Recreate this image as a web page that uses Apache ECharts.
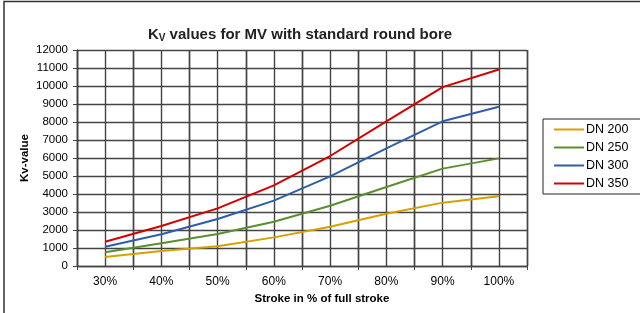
<!DOCTYPE html>
<html>
<head>
<meta charset="utf-8">
<script src="https://cdn.jsdelivr.net/npm/echarts@6/dist/echarts.min.js"></script>
<style>
  html, body { margin: 0; padding: 0; background: #fff; }
  #chart { width: 640px; height: 313px; }
</style>
</head>
<body>
<div id="chart"></div>
<script>
// stroke positions
const strokes = ['30%', '40%', '50%', '60%', '70%', '80%', '90%', '100%']

// Kv values per nominal diameter
const dn200 = [500, 830, 1100, 1590, 2180, 2900, 3520, 3870]
const dn250 = [760, 1260, 1780, 2460, 3350, 4390, 5410, 5980]
const dn300 = [1070, 1760, 2610, 3630, 4980, 6530, 8040, 8850]
const dn350 = [1350, 2220, 3200, 4480, 6110, 8040, 9940, 10920]

const font = '"Liberation Sans", Arial, sans-serif'
const gridLine = { show: true, lineStyle: { color: '#444', width: 1.4 } }

const chart = echarts.init(document.getElementById('chart'))

function line(name, data, color) {
  return {
    name: name,
    type: 'line',
    data: data,
    symbol: 'none',
    lineStyle: { color: color, width: 2 },
    itemStyle: { color: color }
  }
}

chart.setOption({
  animation: false,
  textStyle: { fontFamily: font },
  title: {
    text: '{k|K}{s|V}{k| values for MV with standard round bore}',
    left: 295,
    top: 21,
    textAlign: 'center',
    textStyle: {
      rich: {
        k: { fontSize: 15, fontWeight: 'bold', color: '#222', fontFamily: font },
        s: { fontSize: 10, fontWeight: 'bold', color: '#222', fontFamily: font, padding: [7, 0, 0, 0] }
      }
    }
  },
  legend: {
    orient: 'vertical',
    left: 543,
    top: 119,
    itemWidth: 30,
    itemHeight: 10,
    itemGap: 5,
    padding: [4, 60, 4, 10],
    borderColor: '#222',
    borderWidth: 1,
    itemStyle: { opacity: 0 },
    textStyle: { fontSize: 12.5, color: '#000', fontFamily: font, padding: [0, 0, 0, -3] },
    data: ['DN 200', 'DN 250', 'DN 300', 'DN 350']
  },
  grid: { left: 77, right: 113, top: 50, bottom: 47 },
  xAxis: [
    {
      type: 'category',
      data: strokes,
      boundaryGap: true,
      name: 'Stroke in % of full stroke',
      nameLocation: 'middle',
      nameGap: 27,
      nameTextStyle: { fontSize: 11.5, fontWeight: 'bold', color: '#000', padding: [0, 0, 0, 40] },
      axisLine: { lineStyle: { color: '#444', width: 1.4 } },
      axisTick: { show: true, length: 4, lineStyle: { color: '#444' } },
      axisLabel: { fontSize: 12, color: '#000', margin: 10 },
      splitLine: gridLine
    },
    {
      type: 'value',
      min: 0,
      max: 16,
      interval: 1,
      show: true,
      axisLine: { show: false },
      axisTick: { show: false },
      axisLabel: { show: false },
      splitLine: gridLine
    }
  ],
  yAxis: {
    type: 'value',
    min: 0,
    max: 12000,
    interval: 1000,
    name: 'Kv-value',
    nameLocation: 'middle',
    nameRotate: 90,
    nameGap: 46,
    nameMoveOverlap: false,
    nameTextStyle: { fontSize: 11.5, fontWeight: 'bold', color: '#000' },
    axisLine: { show: true, lineStyle: { color: '#444', width: 1.4 } },
    axisTick: { show: true, length: 4, lineStyle: { color: '#444' } },
    axisLabel: { fontSize: 11.5, color: '#000', margin: 9, formatter: v => String(v) },
    splitLine: gridLine
  },
  graphic: [
    {
      type: 'polyline',
      shape: { points: [[4, 320], [4, 1.5], [645, 1.5]] },
      style: { stroke: '#333', lineWidth: 1.5, fill: null },
      silent: true
    }
  ],
  series: [
    line('DN 200', dn200, '#D4A100'),
    line('DN 250', dn250, '#5A8E2E'),
    line('DN 300', dn300, '#2F5DA8'),
    line('DN 350', dn350, '#D40000')
  ]
})
</script>
</body>
</html>
